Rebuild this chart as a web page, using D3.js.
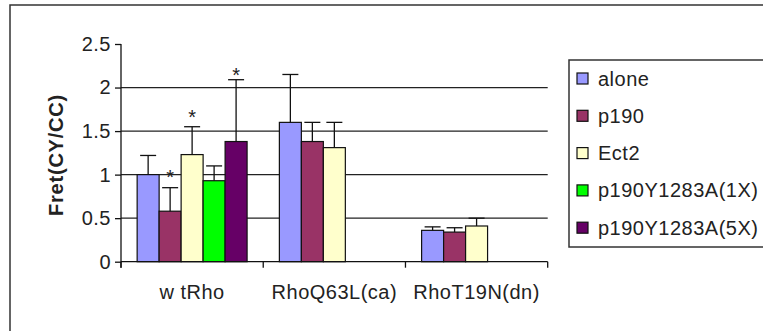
<!DOCTYPE html>
<html>
<head>
<meta charset="utf-8">
<script src="https://cdn.jsdelivr.net/npm/d3@7"></script>
<style>
  body { margin: 0; background: #fff; }
  text { font-family: "Liberation Sans", Arial, sans-serif; }
</style>
</head>
<body>
<div class="vis1"></div>
<script>
// Data
var categories = ["w tRho", "RhoQ63L(ca)", "RhoT19N(dn)"];
var seriesNames = ["alone", "p190", "Ect2", "p190Y1283A(1X)", "p190Y1283A(5X)"];
var seriesColors = ["#9999FF", "#993366", "#FFFFCC", "#00FF00", "#660066"];

// one array per series, values per category (null = no bar)
var alone    = [1.00, 1.60, 0.36];
var p190     = [0.58, 1.38, 0.34];
var ect2     = [1.23, 1.31, 0.41];
var y1283a1x = [0.93, null, null];
var y1283a5x = [1.38, null, null];

// upper end of the error bars
var aloneErr    = [1.22, 2.15, 0.40];
var p190Err     = [0.85, 1.60, 0.39];
var ect2Err     = [1.55, 1.60, 0.50];
var y1283a1xErr = [1.10, null, null];
var y1283a5xErr = [2.09, null, null];

// significance stars (height in data units, null = none)
var p190Star     = [1.03, null, null];
var ect2Star     = [1.71, null, null];
var y1283a5xStar = [2.20, null, null];

var yTicks = [0, 0.5, 1, 1.5, 2, 2.5];

var values = [alone, p190, ect2, y1283a1x, y1283a5x];
var errs = [aloneErr, p190Err, ect2Err, y1283a1xErr, y1283a5xErr];
var stars = [[null, null, null], p190Star, ect2Star, [null, null, null], y1283a5xStar];

// Flatten into one row per bar
var bars = [];
categories.forEach(function(c, ci) {
  seriesNames.forEach(function(s, si) {
    if (values[si][ci] != null) {
      bars.push({cat: c, series: s, si: si, value: values[si][ci], err: errs[si][ci], star: stars[si][ci]});
    }
  });
});

var width = 763, height = 331;
var plot = {left: 121, right: 547.7, top: 44, bottom: 261.7};

var svg = d3.select(".vis1")
  .append("svg")
  .attr("width", width)
  .attr("height", height);

// outer chart frame
svg.append("rect")
  .attr("x", 10).attr("y", 5)
  .attr("width", 800).attr("height", 400)
  .attr("fill", "none")
  .attr("stroke", "#333")
  .attr("stroke-width", 1.5);

// Scales
var x0 = d3.scaleBand()
  .domain(categories)
  .range([plot.left, plot.right])
  .paddingInner(0.227)
  .paddingOuter(0.1135);

var x1 = d3.scaleBand()
  .domain(d3.range(seriesNames.length))
  .range([0, x0.bandwidth()]);

var y = d3.scaleLinear()
  .domain([0, 2.5])
  .range([plot.bottom, plot.top]);

// Gridlines (not at 0 and 2.5)
svg.append("g")
  .selectAll("line")
  .data(yTicks.filter(function(t) { return t > 0 && t < 2.5; }))
  .enter()
  .append("line")
    .attr("x1", plot.left)
    .attr("x2", plot.right)
    .attr("y1", function(d) { return y(d); })
    .attr("y2", function(d) { return y(d); })
    .attr("stroke", "#222")
    .attr("stroke-width", 1.3);

// Bars
svg.append("g")
  .selectAll("rect")
  .data(bars)
  .enter()
  .append("rect")
    .attr("x", function(d) { return x0(d.cat) + x1(d.si); })
    .attr("y", function(d) { return y(d.value); })
    .attr("width", x1.bandwidth())
    .attr("height", function(d) { return y(0) - y(d.value); })
    .attr("fill", function(d) { return seriesColors[d.si]; })
    .attr("stroke", "#111")
    .attr("stroke-width", 1.2);

// Error bars (plus direction only)
var eb = svg.append("g")
  .attr("stroke", "#111")
  .attr("stroke-width", 1.3)
  .selectAll("g")
  .data(bars)
  .enter()
  .append("g");

eb.append("line")
  .attr("x1", function(d) { return x0(d.cat) + x1(d.si) + x1.bandwidth() / 2; })
  .attr("x2", function(d) { return x0(d.cat) + x1(d.si) + x1.bandwidth() / 2; })
  .attr("y1", function(d) { return y(d.value); })
  .attr("y2", function(d) { return y(d.err); });

eb.append("line")
  .attr("x1", function(d) { return x0(d.cat) + x1(d.si) + x1.bandwidth() / 2 - 8; })
  .attr("x2", function(d) { return x0(d.cat) + x1(d.si) + x1.bandwidth() / 2 + 8; })
  .attr("y1", function(d) { return y(d.err); })
  .attr("y2", function(d) { return y(d.err); });

// Stars
svg.append("g")
  .selectAll("text")
  .data(bars.filter(function(d) { return d.star != null; }))
  .enter()
  .append("text")
    .attr("x", function(d) { return x0(d.cat) + x1(d.si) + x1.bandwidth() / 2; })
    .attr("y", function(d) { return y(d.star) + 11.5; })
    .attr("text-anchor", "middle")
    .attr("font-size", "20px")
    .attr("fill", "#222")
    .text("*");

// Y axis
var yAxis = svg.append("g")
  .attr("transform", "translate(" + plot.left + ",0)")
  .call(d3.axisLeft(y).tickValues(yTicks).tickSize(6).tickPadding(4)
    .tickFormat(function(d) { return d; }));
yAxis.selectAll("path").attr("d", "M0," + plot.top + "V" + (plot.bottom + 6));
yAxis.selectAll("line, path").attr("stroke", "#111").attr("stroke-width", 1.3);
yAxis.selectAll("text")
  .attr("font-size", "20px")
  .attr("letter-spacing", "0.5px")
  .attr("fill", "#222")
  .attr("font-family", "Liberation Sans, Arial, sans-serif");

// X axis with ticks between categories
var xAxis = svg.append("g");
xAxis.append("line")
  .attr("x1", plot.left).attr("x2", plot.right)
  .attr("y1", y(0)).attr("y2", y(0))
  .attr("stroke", "#111").attr("stroke-width", 1.3);

var step = x0.step();
xAxis.selectAll(".sep")
  .data(d3.range(categories.length + 1))
  .enter()
  .append("line")
    .attr("x1", function(i) { return plot.left + i * step; })
    .attr("x2", function(i) { return plot.left + i * step; })
    .attr("y1", y(0))
    .attr("y2", y(0) + 6)
    .attr("stroke", "#111").attr("stroke-width", 1.3);

xAxis.selectAll("text")
  .data(categories)
  .enter()
  .append("text")
    .attr("x", function(d) { return x0(d) + x0.bandwidth() / 2; })
    .attr("y", 299)
    .attr("text-anchor", "middle")
    .attr("font-size", "20px")
    .attr("letter-spacing", "0.5px")
    .attr("fill", "#222")
    .text(function(d) { return d; });

// Y axis title
svg.append("text")
  .attr("transform", "translate(63,155) rotate(-90)")
  .attr("text-anchor", "middle")
  .attr("font-size", "20px")
  .attr("font-weight", "bold")
  .attr("letter-spacing", "0.8px")
  .attr("fill", "#222")
  .text("Fret(CY/CC)");

// Legend
var legend = svg.append("g");
legend.append("rect")
  .attr("x", 569).attr("y", 60)
  .attr("width", 300).attr("height", 187)
  .attr("fill", "#fff")
  .attr("stroke", "#333")
  .attr("stroke-width", 1.5);

var item = legend.selectAll(".item")
  .data(seriesNames)
  .enter()
  .append("g")
    .attr("transform", function(d, i) { return "translate(577," + (78.5 + i * 37.3) + ")"; });

item.append("rect")
  .attr("x", 0).attr("y", -5.5)
  .attr("width", 11).attr("height", 11)
  .attr("fill", function(d, i) { return seriesColors[i]; })
  .attr("stroke", "#111")
  .attr("stroke-width", 1.2);

item.append("text")
  .attr("x", 21)
  .attr("y", 7)
  .attr("font-size", "20px")
  .attr("letter-spacing", "0.5px")
  .attr("fill", "#222")
  .text(function(d) { return d; });
</script>
</body>
</html>
